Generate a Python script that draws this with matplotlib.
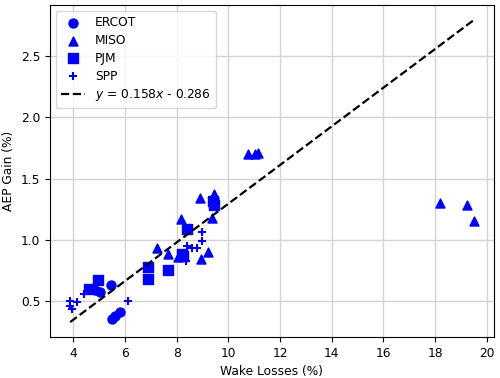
import numpy as np
import matplotlib
matplotlib.use("Agg")
import matplotlib.pyplot as plt

plt.rcParams['font.size'] = 8.8

# wake losses (%) and AEP gain (%) per ISO
ercot_x = [4.85, 5.05, 5.45, 5.5, 5.6, 5.8]
ercot_y = [0.59, 0.57, 0.63, 0.35, 0.38, 0.41]

miso_x = [7.25, 7.65, 8.05, 8.95, 9.2, 8.15, 9.35, 8.9, 9.45, 10.75, 11.05, 11.15, 18.2, 19.25, 19.5]
miso_y = [0.93, 0.88, 0.86, 0.84, 0.90, 1.17, 1.18, 1.34, 1.37, 1.70, 1.70, 1.71, 1.30, 1.28, 1.15]

pjm_x = [4.6, 4.95, 6.9, 6.9, 7.65, 8.2, 8.25, 8.4, 9.4, 9.45]
pjm_y = [0.60, 0.67, 0.78, 0.68, 0.75, 0.88, 0.87, 1.09, 1.32, 1.28]

spp_x = [3.88, 3.88, 3.95, 4.15, 4.4, 6.1, 8.35, 8.4, 8.6, 8.8, 9.0, 9.0]
spp_y = [0.50, 0.46, 0.43, 0.49, 0.56, 0.50, 0.83, 0.95, 0.93, 0.93, 0.99, 1.06]

slope = 0.158
intercept = -0.286

fig, ax = plt.subplots(figsize=(5, 3.78), dpi=100)
ax.set_axisbelow(True)
ax.grid(True, color='lightgray', linewidth=1)

ax.scatter(ercot_x, ercot_y, marker='o', s=42, color='blue', label='ERCOT')
ax.scatter(miso_x, miso_y, marker='^', s=42, color='blue', label='MISO')
ax.scatter(pjm_x, pjm_y, marker='s', s=42, color='blue', label='PJM')
ax.scatter(spp_x, spp_y, marker='+', s=30, color='blue', label='SPP')

all_x = ercot_x + miso_x + pjm_x + spp_x
xs = np.array([min(all_x), max(all_x)])
ax.plot(xs, slope * xs + intercept, 'k--', linewidth=1.6,
        label='$y$ = %.3f$x$ - %.3f' % (slope, -intercept))

ax.set_xticks(np.arange(4, 21, 2))
ax.set_yticks([0.5, 1.0, 1.5, 2.0, 2.5])
ax.set_xlabel('Wake Losses (%)')
ax.set_ylabel('AEP Gain (%)')
ax.legend(loc='upper left', labelspacing=0.4)

plt.subplots_adjust(left=0.1, right=0.988, top=0.987, bottom=0.108)
plt.savefig('out.png', dpi=100)
